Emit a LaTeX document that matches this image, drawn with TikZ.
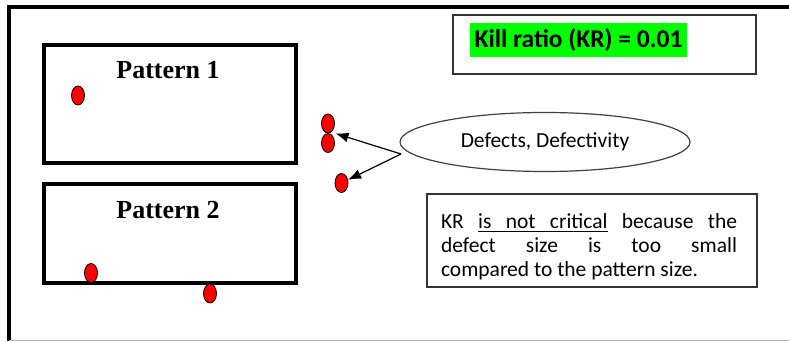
\documentclass[tikz,border=0pt]{standalone}
\usepackage{fontspec}
\setmainfont{Liberation Serif}
\newfontfamily\calfont{Carlito}
\usetikzlibrary{shapes.geometric,arrows.meta}
\definecolor{hlgreen}{RGB}{0,255,0}
\newcommand\myulw[1]{\setbox0\hbox{#1}\rlap{\vrule height -2pt depth 3.4pt width \wd0}\box0\relax}
\newcommand\myulsp{\leaders\hrule height -2pt depth 3.4pt\hskip\fontdimen2\font plus\fontdimen3\font minus\fontdimen4\font\relax}
\tikzset{
  pattbox/.style={draw=black,line width=3.5pt},
  patttext/.style={font=\bfseries\fontsize{26}{30}\selectfont,anchor=base,inner sep=0pt},
  dot/.style={ellipse,draw=black,line width=0.8pt,fill=red,minimum width=13pt,minimum height=19pt,inner sep=0pt},
  arr/.style={line width=1.2pt,-{Latex[length=13pt,width=10pt]}},
  thinbox/.style={draw=black!80,line width=1.4pt}
}
\begin{document}
\begin{tikzpicture}[x=1pt,y=-1pt]
\useasboundingbox (0,0) rectangle (789,342);
% outer frame
\draw[line width=4pt] (7,7) -- (789,7);
\draw[line width=3.5pt] (9,5.5) -- (9,341);
\draw[black!30,line width=1.5pt] (9,340.5) -- (789,340.5);
% pattern boxes
\draw[pattbox] (44,45) rectangle (296,163);
\draw[pattbox] (44,184) rectangle (296,283);
\node[patttext] (p1) at (168,79) {Pattern 1};
\node[patttext] (p2) at (168,218) {Pattern 2};
% defects
\node[dot] (d0) at (78,95.5) {};
\node[dot] (d1) at (328,123.5) {};
\node[dot] (d2) at (328,143) {};
\node[dot] (d3) at (341.5,183) {};
\node[dot] (d4) at (91,273) {};
\node[dot] (d5) at (210,293.5) {};
% ellipse
\node[ellipse,draw=black!75,line width=1.2pt,minimum width=290pt,minimum height=59pt,inner sep=0pt,font=\calfont\fontsize{21.5}{24}\selectfont] (ell) at (545,142) {Defects, Defectivity};
\coordinate (src) at (401,154);
\coordinate (tip1) at (335.5,133.5);
\draw[arr] (src) -- (tip1);
\draw[arr] (src) -- (d3);
% kill ratio box
\node[thinbox,minimum width=303pt,minimum height=59pt,inner sep=0pt] (kr) at (604.5,44.5) {};
\node[fill=hlgreen,minimum width=217pt,minimum height=34pt,inner sep=0pt,font=\calfont\bfseries\fontsize{25.5}{28}\selectfont] (krt) at (578.5,40) {Kill ratio (KR) = 0.01};
% note box
\node[thinbox,minimum width=330pt,minimum height=93pt,inner sep=0pt] (note) at (592,240.5) {};
\node[text width=296pt,align=justify,inner sep=0pt,font=\calfont\fontsize{21.5}{24}\selectfont] (notet) at (589,247) {KR \myulw{is}\myulsp\myulw{not}\myulsp\myulw{critical} because the\linebreak defect size is too small\linebreak compared to the pattern size.};
\end{tikzpicture}
\end{document}
